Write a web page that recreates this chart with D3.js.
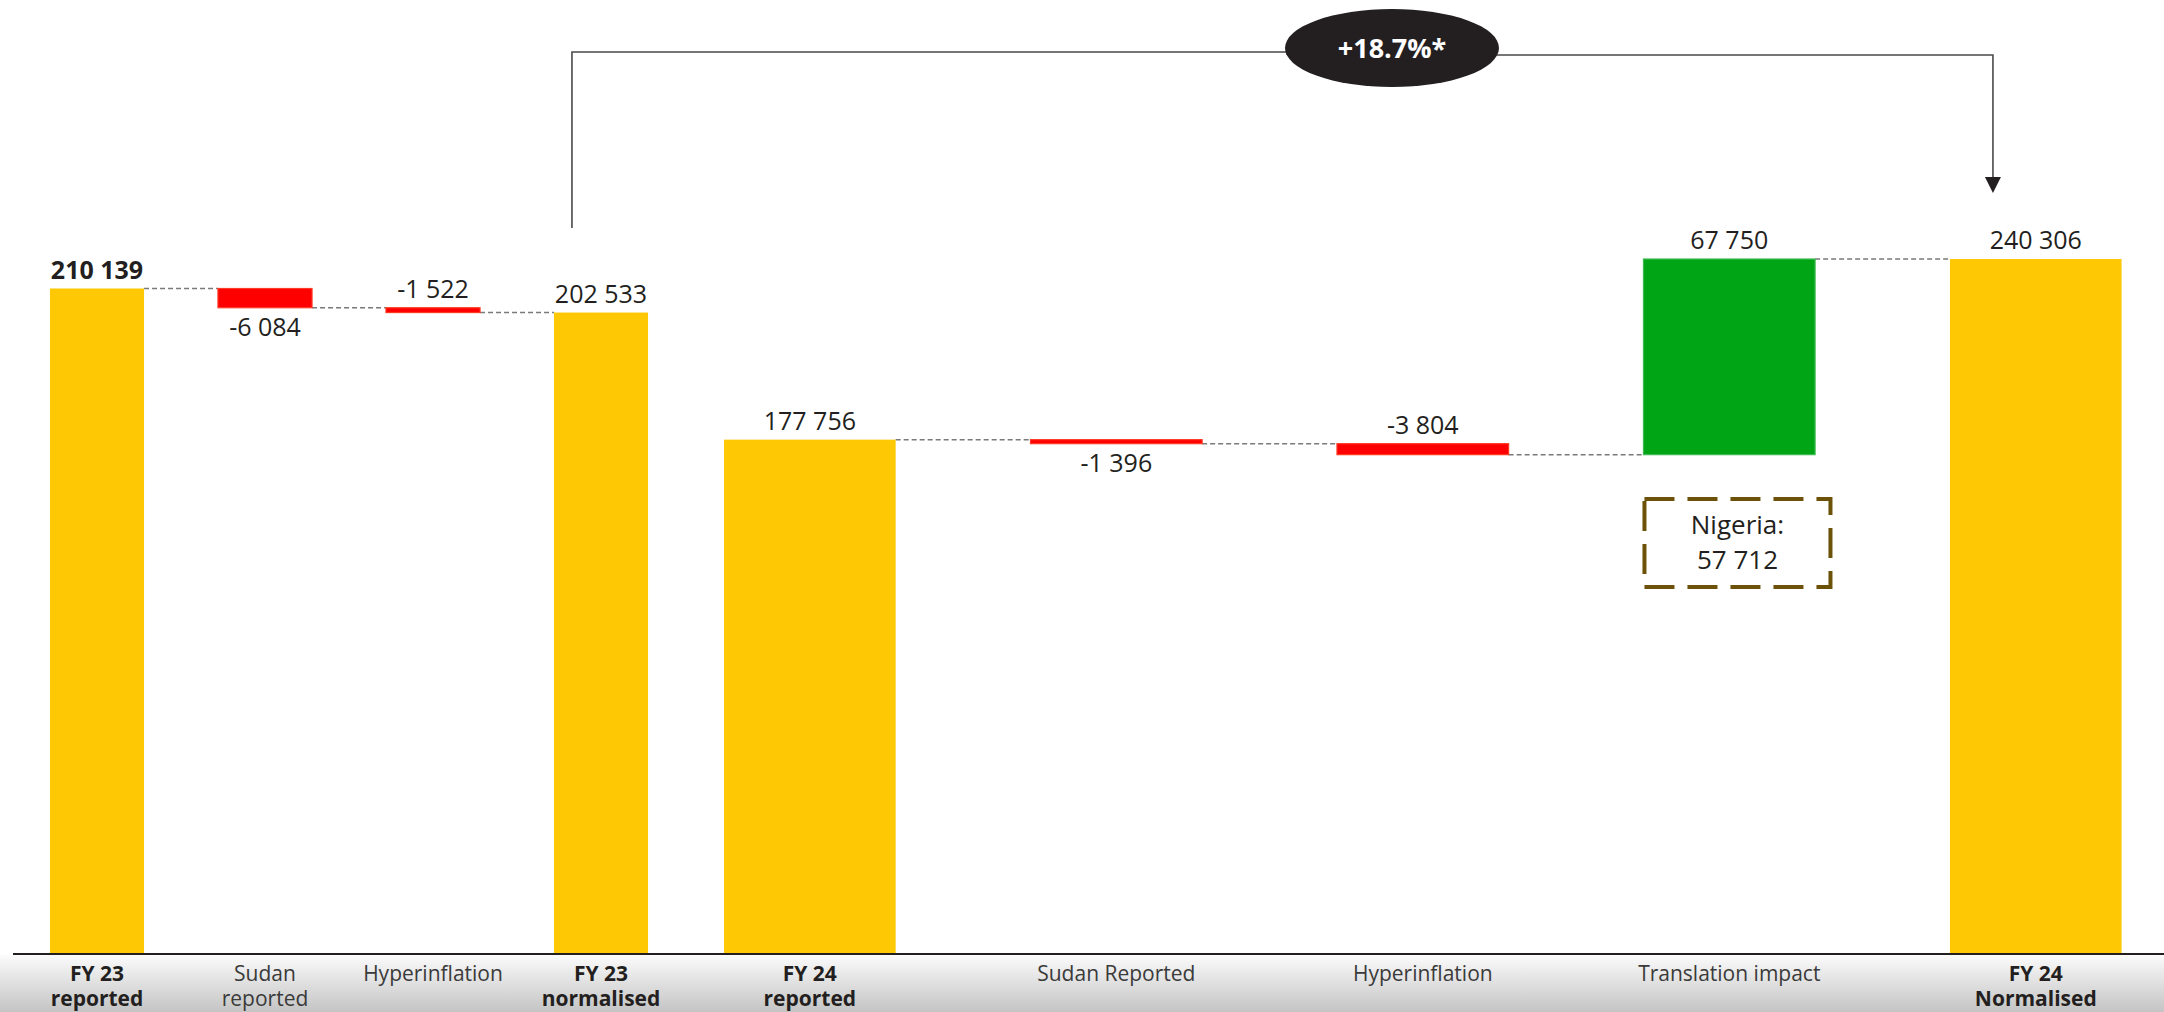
<!DOCTYPE html>
<html>
<head>
<meta charset="utf-8">
<script src="https://cdn.jsdelivr.net/npm/d3@7"></script>
<style>
  html, body { margin: 0; padding: 0; background: #ffffff; }
  svg { display: block; }
</style>
</head>
<body>
<svg id="chart" width="2164" height="1012"></svg>
<script>
// ---------- DATA ----------
const leftCategories = ["FY 23|reported", "Sudan|reported", "Hyperinflation", "FY 23|normalised"];
const leftValues     = [210139, -6084, -1522, 202533];
const leftTypes      = ["total", "delta", "delta", "total"];

const rightCategories = ["FY 24|reported", "Sudan Reported", "Hyperinflation", "Translation impact", "FY 24|Normalised"];
const rightValues     = [177756, -1396, -3804, 67750, 240306];
const rightTypes      = ["total", "delta", "delta", "delta", "total"];

const growthLabel = "+18.7%*";
const noteLines   = ["Nigeria:", "57 712"];

// ---------- SETUP ----------
const W = 2164, H = 1012;
const baseY = 953;
const svg = d3.select("#chart");
const FONT = "'Open Sans', 'Noto Sans', sans-serif";

const COL = { total: "#FEC805", neg: "#FF0000", pos: "#00A516", text: "#231F20" };

const fmt = d3.formatLocale({ decimal: ".", thousands: " ", grouping: [3], currency: ["", ""], minus: "-" }).format(",d");

// bottom band gradient
const defs = svg.append("defs");
const grad = defs.append("linearGradient").attr("id", "band").attr("x1", 0).attr("y1", 0).attr("x2", 0).attr("y2", 1);
grad.append("stop").attr("offset", "0%").attr("stop-color", "#fbfbfb");
grad.append("stop").attr("offset", "100%").attr("stop-color", "#c4c4c4");
svg.append("rect").attr("x", 0).attr("y", baseY + 2).attr("width", W).attr("height", H - baseY - 2).attr("fill", "url(#band)");

function waterfall(cats, vals, types) {
  let running = 0;
  return cats.map((c, i) => {
    let start, end;
    if (types[i] === "total") { start = 0; end = vals[i]; running = vals[i]; }
    else { start = running; end = running + vals[i]; running = end; }
    return { cat: c, value: vals[i], type: types[i], start, end, level: running };
  });
}

function drawPanel(data, x, y, labelBelow, boldValueIdx) {
  const g = svg.append("g");
  const bw = x.bandwidth();

  // connectors
  for (let i = 0; i < data.length - 1; i++) {
    const lv = data[i].level;
    g.append("line")
      .attr("x1", x(data[i].cat) + bw).attr("x2", x(data[i + 1].cat))
      .attr("y1", y(lv)).attr("y2", y(lv))
      .attr("stroke", "#7a7a7a").attr("stroke-width", 1.5).attr("stroke-dasharray", "5,3");
  }

  // bars
  g.selectAll("rect.bar").data(data).enter().append("rect")
    .attr("class", "bar")
    .attr("x", d => x(d.cat))
    .attr("width", bw)
    .attr("y", d => y(Math.max(d.start, d.end)))
    .attr("height", d => Math.max(1, Math.abs(y(d.start) - y(d.end))))
    .attr("fill", d => d.type === "total" ? COL.total : (d.value < 0 ? COL.neg : COL.pos))
    .attr("stroke", d => d.type === "total" ? "none" : (d.value < 0 ? "#ff3a22" : "#3dbb52"))
    .attr("stroke-width", d => d.type === "total" ? 0 : 1.2);

  // value labels
  g.selectAll("text.val").data(data).enter().append("text")
    .attr("class", "val")
    .attr("x", d => x(d.cat) + bw / 2)
    .attr("y", (d, i) => labelBelow[i]
      ? y(Math.min(d.start, d.end)) + 28
      : y(Math.max(d.start, d.end)) - 10)
    .attr("text-anchor", "middle")
    .attr("font-family", FONT)
    .attr("font-size", 25)
    .attr("font-weight", (d, i) => i === boldValueIdx ? 700 : 400)
    .attr("fill", COL.text)
    .text(d => fmt(d.value));

  // category labels
  const cl = g.selectAll("text.cat").data(data).enter().append("text")
    .attr("class", "cat")
    .attr("text-anchor", "middle")
    .attr("font-family", FONT)
    .attr("font-size", 21)
    .attr("font-weight", d => d.type === "total" ? 700 : 400)
    .attr("fill", d => d.type === "total" ? COL.text : "#3a3a3a");
  cl.each(function(d) {
    const parts = d.cat.split("|");
    const t = d3.select(this);
    parts.forEach((p, k) => {
      t.append("tspan").attr("x", x(d.cat) + bw / 2).attr("y", 981 + k * 25).text(p);
    });
  });
}

// ---------- LEFT PANEL ----------
const leftData = waterfall(leftCategories, leftValues, leftTypes);
const xL = d3.scaleBand().domain(leftCategories).range([13, 685]).paddingInner(0.44).paddingOuter(0.22);
const yL = d3.scaleLinear().domain([0, d3.max(leftValues)]).range([baseY, 288.5]);
drawPanel(leftData, xL, yL, [false, true, false, false], 0);

// ---------- RIGHT PANEL ----------
const rightData = waterfall(rightCategories, rightValues, rightTypes);
const xR = d3.scaleBand().domain(rightCategories).range([656.6, 2189]).paddingInner(0.44).paddingOuter(0.22);
const yR = d3.scaleLinear().domain([0, d3.max(rightValues)]).range([baseY, 259]);
drawPanel(rightData, xR, yR, [false, true, false, false, false], -1);

// axis line
svg.append("line").attr("x1", 13).attr("x2", W).attr("y1", baseY + 1).attr("y2", baseY + 1)
  .attr("stroke", "#231F20").attr("stroke-width", 2);

// ---------- GROWTH BRACKET ----------
const bx1 = xL(leftCategories[3]) + 18;
const bx2 = xR(rightCategories[4]) + 43;
const ecx = 1392, ecy = 48, erx = 107, ery = 39;
svg.append("path")
  .attr("d", `M${bx1},228 V52 H${ecx - erx + 2} V55 M${ecx + erx - 2},55 H${bx2} V180`)
  .attr("fill", "none").attr("stroke", "#4a4a4a").attr("stroke-width", 1.6);
svg.append("path")
  .attr("d", `M${bx2 - 8},177 L${bx2 + 8},177 L${bx2},193 Z`)
  .attr("fill", "#231F20");
svg.append("ellipse").attr("cx", ecx).attr("cy", ecy).attr("rx", erx).attr("ry", ery).attr("fill", "#231F20");
svg.append("text").attr("x", ecx).attr("y", ecy + 10).attr("text-anchor", "middle")
  .attr("font-family", FONT).attr("font-size", 27).attr("font-weight", 700).attr("fill", "#ffffff")
  .text(growthLabel);

// ---------- NIGERIA NOTE ----------
const nx = xR(rightCategories[3]);
svg.append("rect").attr("x", nx + 1).attr("y", 499).attr("width", 186).attr("height", 88)
  .attr("fill", "none").attr("stroke", "#6B5208").attr("stroke-width", 4).attr("stroke-dasharray", "30,13");
noteLines.forEach((t, k) => {
  svg.append("text").attr("x", nx + 1 + 93).attr("y", 534 + k * 35).attr("text-anchor", "middle")
    .attr("font-family", FONT).attr("font-size", 26).attr("fill", COL.text).text(t);
});
</script>
</body>
</html>
